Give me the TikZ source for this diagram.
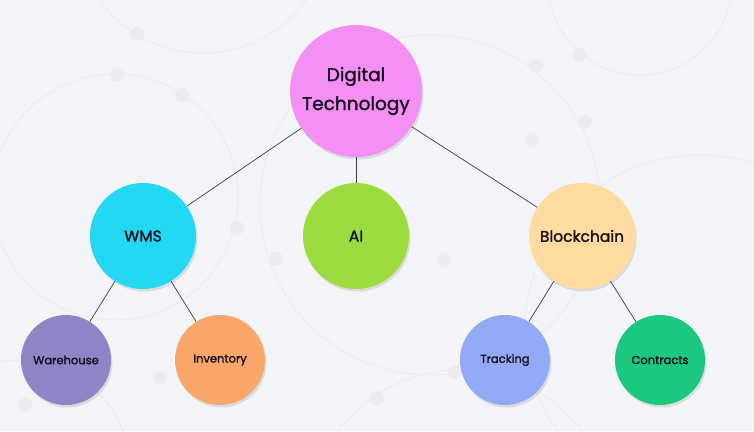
\documentclass[tikz,border=0pt]{standalone}
\usepackage{fontspec}
\setmainfont{Poppins}
\newfontfamily\medfont{Poppins}[FakeBold=1.4]
\usepackage{xcolor}
\usetikzlibrary{positioning,shadows}

\definecolor{bgpaper}{HTML}{F3F4F8}
\definecolor{bgline}{HTML}{EAECF0}
\definecolor{inkdark}{HTML}{150F1E}
\definecolor{edgegray}{HTML}{3A3A40}
\definecolor{dtpink}{HTML}{F490F4}
\definecolor{wmscyan}{HTML}{22D8F2}
\definecolor{ailime}{HTML}{9DDC3E}
\definecolor{bcpeach}{HTML}{FFDBA0}
\definecolor{whpurple}{HTML}{8E84C6}
\definecolor{invorange}{HTML}{F9A66B}
\definecolor{trblue}{HTML}{93A9F6}
\definecolor{ctgreen}{HTML}{1CC87F}

\begin{document}
\begin{tikzpicture}[
			x=1pt, y=-1pt,
			bubble/.style={
				circle,
				inner sep=0pt,
				align=center,
				text=inkdark,
				drop shadow={opacity=0.10, shadow xshift=1.5pt, shadow yshift=-2.5pt, fill=black}
			},
			root/.style={bubble, minimum size=132pt, font=\medfont\fontsize{18.5}{29}\selectfont},
			mid/.style={bubble, minimum size=106pt, font=\medfont\fontsize{15.5}{18}\selectfont},
			leaf/.style={bubble, minimum size=90pt, font=\medfont\fontsize{11.5}{14}\selectfont},
			link/.style={draw=edgegray, line width=0.7pt},
			deco/.style={draw=bgline, line width=1pt},
			dot/.style={fill=bgline}
			]
			% paper and faint pattern
			\fill[bgpaper] (0,0) rectangle (754,431);
			\useasboundingbox (0,0) rectangle (754,431);
			\begin{scope}
				\clip (0,0) rectangle (754,431);
				\draw[deco] (203,-74) circle[radius=127];
				\draw[deco] (115,197) circle[radius=123];
				\draw[deco] (640,-17) circle[radius=92];
				\draw[deco] (430,205) circle[radius=170];
				\draw[deco] (700,330) circle[radius=175];
				\draw[deco] (460,520) circle[radius=150];
				\draw[deco] (20,470) circle[radius=110];
				\foreach \p in {(137,34),(117,75),(182,95),(536,66),(579,55),(585,122),(532,140),(237,228),(276,259),(444,260),(377,398),(455,372),(160,378),(25,405)}
					\fill[dot] \p circle[radius=7];
			\end{scope}

			% tree
			\node[root, fill=dtpink] (dt) at (356,91) {Digital\\Technology};
			\node[mid, fill=wmscyan, on grid, below left=145pt and 213pt of dt] (wms) {WMS};
			\node[mid, fill=ailime, on grid, below=145pt of dt] (ai) {AI};
			\node[mid, fill=bcpeach, on grid, below right=145pt and 226pt of dt] (bc) {Blockchain};
			\node[leaf, fill=whpurple, on grid, below left=124pt and 77pt of wms] (wh) {Warehouse};
			\node[leaf, fill=invorange, on grid, below right=124pt and 77pt of wms] (inv) {Inventory};
			\node[leaf, fill=trblue, on grid, below left=124pt and 77pt of bc] (tr) {Tracking};
			\node[leaf, fill=ctgreen, on grid, below right=124pt and 78pt of bc] (ct) {Contracts};

			\draw[link] (dt) -- (wms);
			\draw[link] (dt) -- (ai);
			\draw[link] (dt) -- (bc);
			\draw[link] (wms) -- (wh);
			\draw[link] (wms) -- (inv);
			\draw[link] (bc) -- (tr);
			\draw[link] (bc) -- (ct);
		\end{tikzpicture}
\end{document}
